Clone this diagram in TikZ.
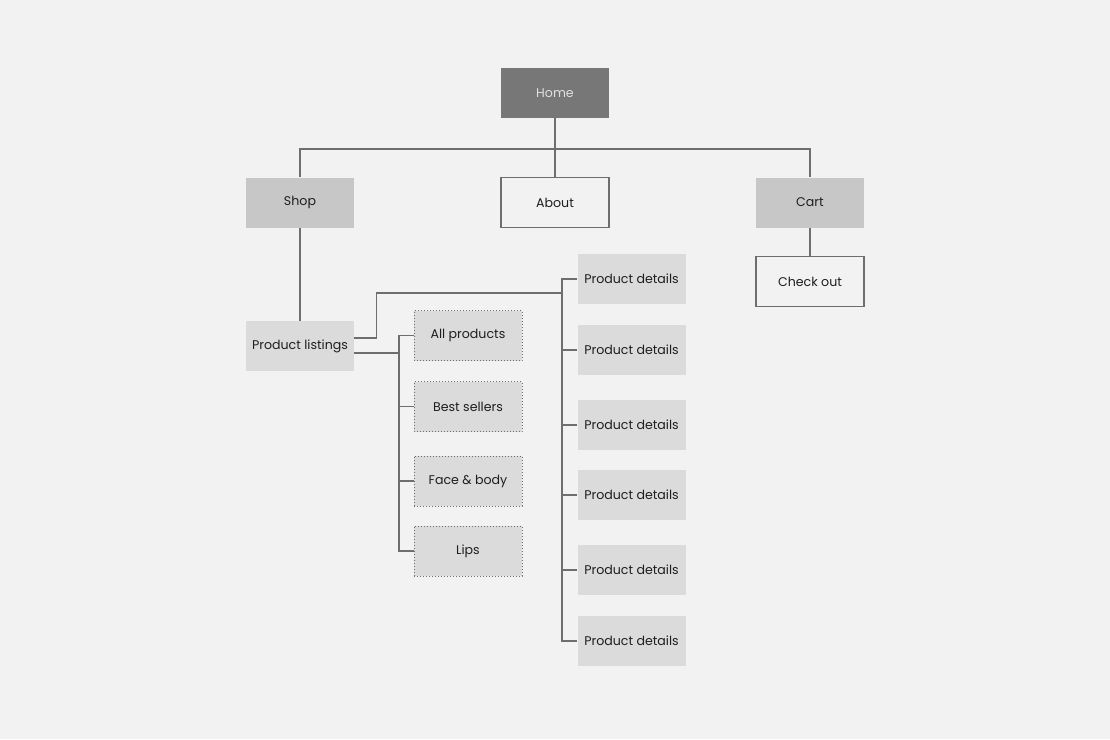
\documentclass[tikz,border=0pt]{standalone}
\usepackage{fontspec}
\setmainfont{Poppins}
\usetikzlibrary{calc}

\definecolor{pagebg}{HTML}{F2F2F2}
\definecolor{linegray}{HTML}{6E6E6E}
\definecolor{homefill}{HTML}{777777}
\definecolor{midfill}{HTML}{C7C7C7}
\definecolor{lightfill}{HTML}{DBDBDB}
\definecolor{textgray}{HTML}{1E1E1E}

\begin{document}
\begin{tikzpicture}[x=1pt,y=-1pt,
    page/.style={draw=none,fill=pagebg},
    box/.style={rectangle,minimum width=108pt,minimum height=50pt,inner sep=0pt,
      font=\fontsize{12.6}{14}\selectfont,text=textgray},
    homebox/.style={box,fill=homefill,text=white!88!black},
    midbox/.style={box,fill=midfill},
    openbox/.style={box,draw=linegray,line width=1.3pt,fill=pagebg},
    pagebox/.style={box,fill=lightfill},
    catbox/.style={box,fill=lightfill,draw=linegray,dotted,line width=1pt},
    link/.style={draw=linegray,line width=1.4pt}]
  \fill[page] (0,0) rectangle (1110,739);
  \useasboundingbox (0,0) rectangle (1110,739);

  % top level
  \node[homebox] (home) at (555,93) {Home};
  \node[midbox] (shop) at (300,202.5) {Shop};
  \node[openbox] (about) at (555,202.5) {About};
  \node[midbox] (cart) at (810,202.5) {Cart};
  \node[openbox] (checkout) at (810,281.5) {Check out};
  \node[midbox,fill=lightfill] (listings) at (300,346) {Product listings};

  % categories
  \node[catbox] (cat1) at (468,335.5) {All products};
  \node[catbox] (cat2) at (468,406.5) {Best sellers};
  \node[catbox] (cat3) at (468,481) {Face \& body};
  \node[catbox] (cat4) at (468,551) {Lips};

  % product pages
  \foreach \y [count=\i] in {279,350,425,495,570,641}
    \node[pagebox] (pd\i) at (631.5,\y) {Product details};

  \coordinate (bus) at (555,149);
  \coordinate (pdbus) at (562,293);
  \coordinate (catbus) at (399,353);

  \draw[link] (home) -- (about);
  \draw[link] (shop.north) |- (bus) -| (cart.north);
  \draw[link] (shop) -- (listings);
  \draw[link] (cart) -- (checkout);

  \draw[link] ([yshift=8pt]listings.east) -- ++(22,0) |- (pdbus);
  \draw[link] (pd1.west) -| (pdbus) |- (pd6.west);
  \foreach \i in {2,...,5}
    \draw[link] (pd\i.west) -- (pd\i.west -| pdbus);

  \draw[link] ([yshift=-7pt]listings.east) -- (catbus);
  \draw[link] (cat1.west) -| (catbus) |- (cat4.west);
  \foreach \i in {2,3}
    \draw[link] (cat\i.west) -- (cat\i.west -| catbus);
\end{tikzpicture}
\end{document}
